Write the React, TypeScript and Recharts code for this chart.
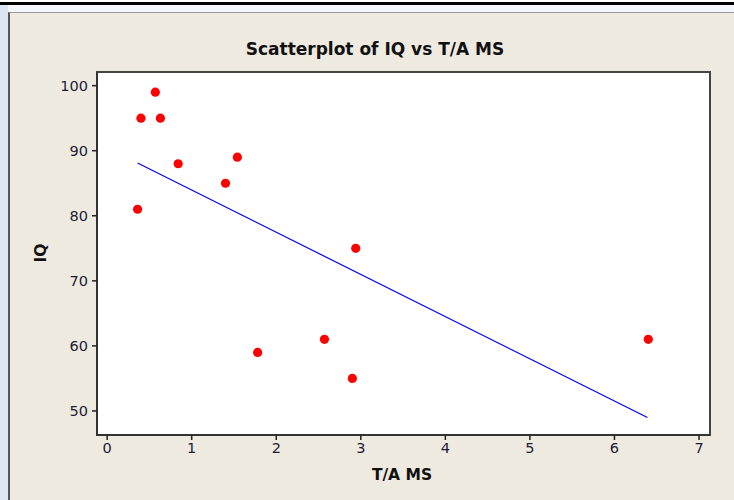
import React from "react";
import {
  ScatterChart,
  Scatter,
  XAxis,
  YAxis,
  ReferenceArea,
  ReferenceLine,
} from "recharts";

const taMs = [0.4, 0.57, 0.63, 0.84, 0.36, 1.4, 1.54, 2.94, 1.78, 2.57, 2.9, 6.4];
const iq = [95, 99, 95, 88, 81, 85, 89, 75, 59, 61, 55, 61];
const fitLine = [
  { x: 0.36, y: 88.1 },
  { x: 6.39, y: 49.0 },
];
const xTicks = [0, 1, 2, 3, 4, 5, 6, 7];
const yTicks = [50, 60, 70, 80, 90, 100];
const xDomain = [-0.12, 7.13];
const yDomain = [46.3, 102.1];

const points = taMs.map((x, i) => ({ x, y: iq[i] }));

const FONT = "'DejaVu Sans', sans-serif";
const TICK_COLOR = "#1c1c38";

const Dot = (props: any) => {
  const { cx, cy } = props;
  if (cx == null || cy == null) return <g />;
  return <circle cx={cx} cy={cy} r={4.6} fill="#ff0000" stroke="none" />;
};

export default function App() {
  return (
    <div
      style={{
        position: "absolute",
        left: 0,
        top: 0,
        width: 734,
        height: 500,
        background: "#ffffff",
        overflow: "hidden",
      }}
    >
      {/* top black rule */}
      <div style={{ position: "absolute", left: 0, top: 2, width: 734, height: 2.5, background: "#000" }} />
      {/* light blue surround */}
      <div style={{ position: "absolute", left: 0, top: 5, width: 734, height: 8, background: "#f3f6fb" }} />
      <div style={{ position: "absolute", left: 0, top: 5, width: 8, height: 495, background: "#dde5f3" }} />
      {/* beige panel */}
      <div
        style={{
          position: "absolute",
          left: 8,
          top: 12,
          width: 740,
          height: 500,
          background: "#eeeae0",
          borderLeft: "2.5px solid #555555",
          borderTop: "1.5px solid #9a9a9a",
          boxSizing: "border-box",
        }}
      />
      <div style={{ position: "absolute", left: 0, top: 0 }}>
        <ScatterChart
          width={734}
          height={500}
          margin={{ top: 72, right: 24, bottom: 35, left: 37 }}
        >
          <text
            x={375}
            y={55}
            textAnchor="middle"
            style={{ fontFamily: FONT, fontWeight: "bold", fontSize: 17, fill: "#111" }}
          >
            Scatterplot of IQ vs T/A MS
          </text>
          <text
            x={402}
            y={480}
            textAnchor="middle"
            style={{ fontFamily: FONT, fontWeight: "bold", fontSize: 15.5, fill: "#111" }}
          >
            T/A MS
          </text>
          <text
            x={46}
            y={253}
            textAnchor="middle"
            transform="rotate(-90 46 253)"
            style={{ fontFamily: FONT, fontWeight: "bold", fontSize: 15.5, fill: "#111" }}
          >
            IQ
          </text>
          <XAxis
            type="number"
            dataKey="x"
            domain={xDomain}
            ticks={xTicks}
            allowDataOverflow
            height={30}
            tickSize={5}
            tickMargin={3}
            axisLine={{ stroke: "#333", strokeWidth: 2 }}
            tickLine={{ stroke: "#222", strokeWidth: 1.5 }}
            tick={{ fill: TICK_COLOR, fontSize: 14.5, fontFamily: FONT }}
          />
          <YAxis
            type="number"
            dataKey="y"
            domain={yDomain}
            ticks={yTicks}
            allowDataOverflow
            width={60}
            tickSize={5}
            tickMargin={4}
            axisLine={{ stroke: "#333", strokeWidth: 2 }}
            tickLine={{ stroke: "#222", strokeWidth: 1.5 }}
            tick={{ fill: TICK_COLOR, fontSize: 14.5, fontFamily: FONT }}
          />
          <ReferenceArea
            x1={xDomain[0]}
            x2={xDomain[1]}
            y1={yDomain[0]}
            y2={yDomain[1]}
            fill="#ffffff"
            fillOpacity={1}
            stroke="#444444"
            strokeWidth={2}
            ifOverflow="visible"
          />
          <ReferenceLine
            segment={fitLine}
            stroke="#0000ff"
            strokeWidth={1.2}
            ifOverflow="visible"
          />
          <Scatter data={points} shape={Dot} isAnimationActive={false} />
        </ScatterChart>
      </div>
    </div>
  );
}
